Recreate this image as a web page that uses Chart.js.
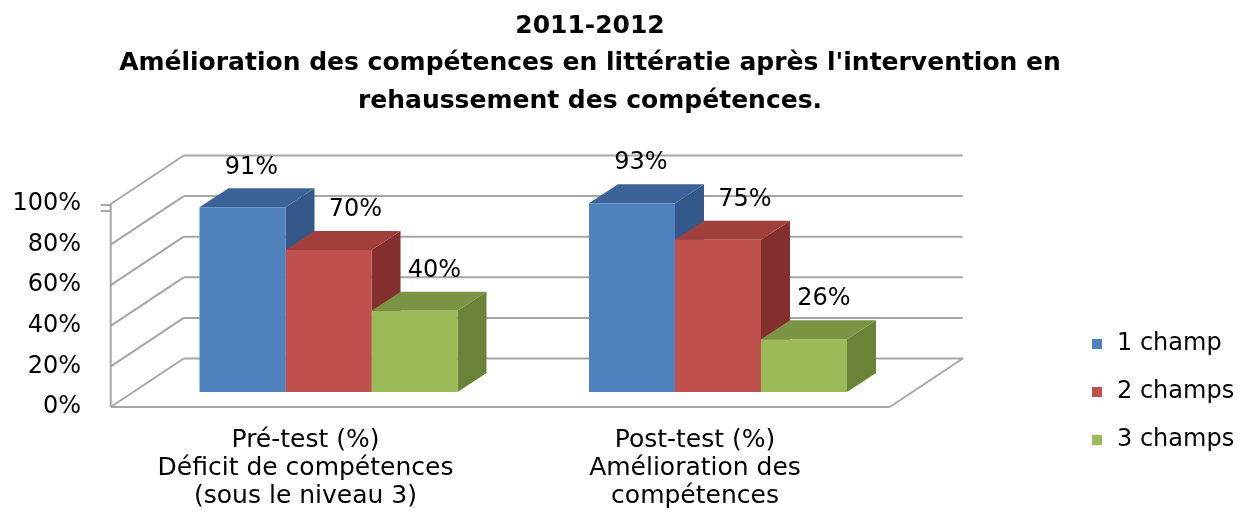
<!DOCTYPE html>
<html>
<head>
<meta charset="utf-8">
<script src="https://cdn.jsdelivr.net/npm/chart.js@4.4.1/dist/chart.umd.min.js"></script>
<style>
  html, body { margin: 0; padding: 0; background: #ffffff; }
  #wrap { width: 1242px; height: 518px; position: relative; }
</style>
</head>
<body>
<div id="wrap"><canvas id="c" width="1242" height="518"></canvas></div>
<script>
// ---- data ----
const titleLines = ['2011-2012', "Amélioration des compétences en littératie après l'intervention en", 'rehaussement des compétences.'];
const categories = [
  ['Pré-test (%)', 'Déficit de compétences', '(sous le niveau 3)'],
  ['Post-test (%)', 'Amélioration des', 'compétences']
];
const seriesNames = ['1 champ', '2 champs', '3 champs'];
const champ1 = [91, 93];
const champ2 = [70, 75];
const champ3 = [40, 26];
const yMin = 0, yMax = 100, yStep = 20;

// ---- styles ----
const frontColors = ['#4F81BD', '#C0504D', '#9BBB59'];
const topColors   = ['#3C6397', '#A03F3C', '#7A9444'];
const sideColors  = ['#34588A', '#822F2D', '#6A8337'];
const labelDx = [9, 27, 20];
const FRONT = {dx: -23, dy: 15};   // front plane offset from bar plane
const BACK  = {dx: 50, dy: -33.5}; // back plane offset from bar plane
const BAR   = {dx: 29, dy: -19};   // bar depth
const gridColor = '#A6A6A6';
const FONT = 'DejaVu Sans';

const walls3d = {
  id: 'walls3d',
  beforeDatasetsDraw(chart) {
    const ctx = chart.ctx;
    const ys = chart.scales.y;
    const L = chart.chartArea.left, R = chart.chartArea.right;
    ctx.save();
    ctx.strokeStyle = gridColor;
    ctx.lineWidth = 2;
    ctx.lineCap = 'butt';
    const line = (x1, y1, x2, y2) => { ctx.beginPath(); ctx.moveTo(x1, y1); ctx.lineTo(x2, y2); ctx.stroke(); };
    for (let v = yMin; v <= yMax; v += yStep) {
      const p = ys.getPixelForValue(v);
      line(L + BACK.dx, p + BACK.dy, R + BACK.dx, p + BACK.dy);
      line(L + FRONT.dx, p + FRONT.dy, L + BACK.dx, p + BACK.dy);
    }
    const p0 = ys.getPixelForValue(yMin), p1 = ys.getPixelForValue(yMax);
    line(L + FRONT.dx, p0 + FRONT.dy, L + FRONT.dx, p1 + FRONT.dy - 1);
    line(L + FRONT.dx, p0 + FRONT.dy, R + FRONT.dx, p0 + FRONT.dy);
    line(R + FRONT.dx, p0 + FRONT.dy, R + BACK.dx, p0 + BACK.dy);
    // small tick marks at the top of the axis
    line(L + FRONT.dx - 10, p1 + FRONT.dy + 1, L + FRONT.dx, p1 + FRONT.dy + 1);
    line(L + FRONT.dx - 10, p1 + FRONT.dy + 7, L + FRONT.dx, p1 + FRONT.dy + 7);

    // top and side faces of bars (fronts drawn by Chart.js afterwards)
    chart.data.datasets.forEach((ds, i) => {
      const meta = chart.getDatasetMeta(i);
      meta.data.forEach(bar => {
        const xl = bar.x - bar.width / 2, xr = bar.x + bar.width / 2;
        const yt = bar.y, yb = bar.base;
        ctx.fillStyle = sideColors[i];
        ctx.beginPath();
        ctx.moveTo(xr, yt); ctx.lineTo(xr + BAR.dx, yt + BAR.dy);
        ctx.lineTo(xr + BAR.dx, yb + BAR.dy); ctx.lineTo(xr, yb);
        ctx.closePath(); ctx.fill();
        ctx.fillStyle = topColors[i];
        ctx.beginPath();
        ctx.moveTo(xl, yt); ctx.lineTo(xr, yt);
        ctx.lineTo(xr + BAR.dx, yt + BAR.dy); ctx.lineTo(xl + BAR.dx, yt + BAR.dy);
        ctx.closePath(); ctx.fill();
      });
    });
    ctx.restore();
  },
  afterDatasetsDraw(chart) {
    const ctx = chart.ctx;
    ctx.save();
    ctx.fillStyle = '#000';
    ctx.font = '24px "' + FONT + '"';
    ctx.textAlign = 'center';
    ctx.textBaseline = 'middle';
    chart.data.datasets.forEach((ds, i) => {
      const meta = chart.getDatasetMeta(i);
      meta.data.forEach((bar, j) => {
        ctx.fillText(ds.data[j] + '%', bar.x + labelDx[i], bar.y - 40);
      });
    });
    ctx.restore();
  },
  afterDraw(chart) {
    const ctx = chart.ctx;
    ctx.save();
    ctx.font = '24px "' + FONT + '"';
    ctx.textBaseline = 'middle';
    ctx.textAlign = 'left';
    chart.data.datasets.forEach((ds, i) => {
      const cy = 344 + 48 * i;
      ctx.fillStyle = ds.backgroundColor;
      ctx.fillRect(1092, cy - 5, 10, 10);
      ctx.fillStyle = '#000';
      ctx.fillText(ds.label, 1117, cy);
    });
    ctx.restore();
  }
};

const seriesValues = [champ1, champ2, champ3];
new Chart(document.getElementById('c'), {
  type: 'bar',
  data: {
    labels: categories,
    datasets: seriesNames.map((name, i) => ({
      label: name,
      data: seriesValues[i],
      backgroundColor: frontColors[i],
      borderWidth: 0,
      categoryPercentage: 0.6624,
      barPercentage: 1.0
    }))
  },
  options: {
    responsive: false,
    devicePixelRatio: 1,
    animation: false,
    events: [],
    layout: { padding: { left: 0, right: 62, top: 0, bottom: 0 } },
    plugins: {
      legend: { display: false },
      tooltip: { enabled: false },
      title: {
        display: true,
        text: titleLines,
        color: '#000',
        font: { family: 'DejaVu Sans', size: 25, weight: 'bold', lineHeight: 1.49 },
        padding: { top: 8, bottom: 69.25 }
      }
    },
    scales: {
      x: {
        grid: { display: false, drawTicks: false },
        border: { display: false },
        ticks: {
          color: '#000',
          font: { family: FONT, size: 25, lineHeight: 1.12 },
          padding: 34,
          labelOffset: FRONT.dx,
          maxRotation: 0,
          autoSkip: false
        },
        afterFit(s) { s.height = 126; }
      },
      y: {
        min: yMin, max: yMax,
        grid: { display: false, drawTicks: false },
        border: { display: false },
        ticks: {
          stepSize: yStep,
          color: '#000',
          font: { family: FONT, size: 24 },
          padding: 52.75,
          labelOffset: FRONT.dy,
          callback: v => v + '%'
        },
        afterFit(s) { s.width = 133.75; }
      },
      legendSpace: {
        type: 'linear',
        position: 'right',
        display: true,
        grid: { display: false, drawTicks: false },
        border: { display: false },
        ticks: { display: false },
        afterFit(s) { s.width = 267.25; }
      }
    }
  },
  plugins: [walls3d]
});
</script>
</body>
</html>
